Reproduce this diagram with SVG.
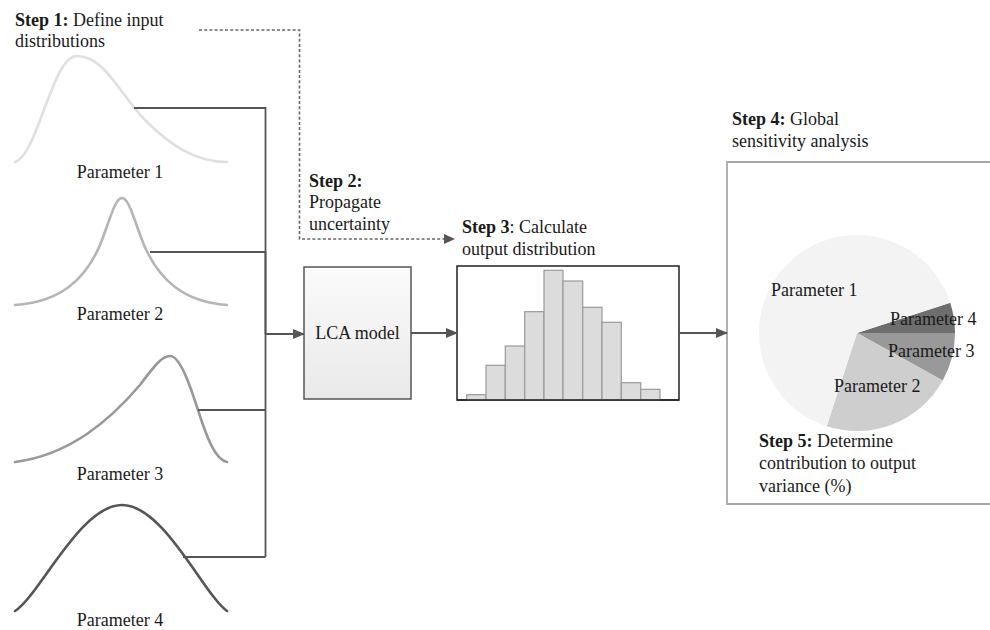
<svg xmlns="http://www.w3.org/2000/svg" width="990" height="630" viewBox="0 0 990 630" font-family="'Liberation Serif', 'DejaVu Serif', serif">
<style>
text{font-family:'Liberation Serif','Times New Roman',serif;font-size:18px;fill:#1a1a1a}
.b{font-weight:bold}
.curve{fill:none;stroke-width:2.6;stroke-linecap:round}
.conn{fill:none;stroke:#555;stroke-width:1.8}
.dot{fill:none;stroke:#666;stroke-width:1.6;stroke-dasharray:3,2.2}
.bar{fill:#dcdcdc;stroke:#9a9a9a;stroke-width:1.2}
</style>
<defs>
<marker id="arr" markerWidth="12" markerHeight="10" refX="11" refY="5" orient="auto" markerUnits="userSpaceOnUse">
<path d="M0,0 L12,5 L0,10 Z" fill="#555"/>
</marker>
<linearGradient id="lca" x1="0" y1="0" x2="0" y2="1">
<stop offset="0" stop-color="#fbfbfb"/>
<stop offset="1" stop-color="#e9e9e9"/>
</linearGradient>
</defs>

<g id="step1-label">
<text x="15" y="26"><tspan class="b">Step 1:</tspan> Define input</text>
<text x="15" y="47">distributions</text>
</g>

<g id="param1">
<path class="curve" stroke="#e0e0e0" d="M15,162 C38,155 52,56 77,56 C105,56 120,95 145,120 C170,145 195,162 227,162"/>
<text x="120" y="178" text-anchor="middle">Parameter 1</text>
</g>

<g id="param2">
<path class="curve" stroke="#b5b5b5" d="M15,305 C60,302 85,280 100,245 C110,220 115,198 122,198 C129,198 134,220 144,245 C159,280 184,302 227,305"/>
<text x="120" y="320" text-anchor="middle">Parameter 2</text>
</g>

<g id="param3">
<path class="curve" stroke="#999" d="M15,462 C70,455 110,420 140,385 C155,365 162,356 170,356 C180,356 190,385 198,410 C206,435 215,460 227,462"/>
<text x="120" y="480" text-anchor="middle">Parameter 3</text>
</g>

<g id="param4">
<path class="curve" stroke="#555" d="M15,611 C40,595 80,505 122,505 C164,505 204,595 227,611"/>
<text x="120" y="626" text-anchor="middle">Parameter 4</text>
</g>

<g id="step2-label">
<text x="309" y="187" class="b">Step 2:</text>
<text x="309" y="208">Propagate</text>
<text x="309" y="230">uncertainty</text>
</g>

<g id="lca-model">
<rect x="304" y="267" width="107" height="132" fill="url(#lca)" stroke="#555" stroke-width="1.5"/>
<text x="357.5" y="339" text-anchor="middle">LCA model</text>
</g>

<g id="output-distribution">
<text x="462" y="233"><tspan class="b">Step 3</tspan>: Calculate</text>
<text x="462" y="255">output distribution</text>
<rect x="457" y="266" width="222" height="134" fill="#fff" stroke="#222" stroke-width="1.5"/>
<rect class="bar" x="466.7" y="394.7" width="19.3" height="5.3"/>
<rect class="bar" x="486" y="365.3" width="19.3" height="34.7"/>
<rect class="bar" x="505.3" y="346" width="19.4" height="54"/>
<rect class="bar" x="524.7" y="311.7" width="19.3" height="88.3"/>
<rect class="bar" x="544" y="270.3" width="19" height="129.7"/>
<rect class="bar" x="563" y="281" width="19.7" height="119"/>
<rect class="bar" x="582.7" y="307.3" width="19.3" height="92.7"/>
<rect class="bar" x="602" y="322.3" width="19.3" height="77.7"/>
<rect class="bar" x="621.3" y="382.7" width="19.4" height="17.3"/>
<rect class="bar" x="640.7" y="389.3" width="19.3" height="10.7"/>
<line x1="457" y1="400" x2="679" y2="400" stroke="#222" stroke-width="1.5"/>
</g>

<g id="sensitivity">
<text x="732" y="125"><tspan class="b">Step 4:</tspan> Global</text>
<text x="732" y="147">sensitivity analysis</text>
<path d="M992,162 H727 V504 H992" fill="#fff" stroke="#a8a8a8" stroke-width="1.8"/>
<path d="M857,333 L950.2,302.7 A98,98 0 0 1 955,333 Z" fill="#6e6e6e"/>
<path d="M857,333 L955,333 A98,98 0 0 1 942.7,380.5 Z" fill="#999"/>
<path d="M857,333 L942.7,380.5 A98,98 0 0 1 826.7,426.2 Z" fill="#cecece"/>
<path d="M857,333 L826.7,426.2 A98,98 0 1 1 950.2,302.7 Z" fill="#f3f3f3"/>
<text x="771" y="296">Parameter 1</text>
<text x="890" y="325">Parameter 4</text>
<text x="888" y="357">Parameter 3</text>
<text x="834" y="392">Parameter 2</text>
<text x="759" y="447"><tspan class="b">Step 5:</tspan> Determine</text>
<text x="759" y="469">contribution to output</text>
<text x="759" y="492">variance (%)</text>
</g>

<g id="connectors">
<path class="conn" d="M134,108 H265.5 V557 M198,410 H265.5 M183,557 H265.5"/>
<path class="conn" stroke="#333" d="M150,252 H265.5 V334"/>
<path class="conn" stroke-width="3" d="M265.5,334 H304" marker-end="url(#arr)"/>
<path class="conn" stroke-width="2" d="M411,333 H457" marker-end="url(#arr)"/>
<path class="conn" stroke-width="2" d="M679,333 H727" marker-end="url(#arr)"/>
<path class="dot" d="M199,30 H299.5 V239 H446"/>
<path d="M444,234 L455,239 L444,244 Z" fill="#555"/>
</g>
</svg>
